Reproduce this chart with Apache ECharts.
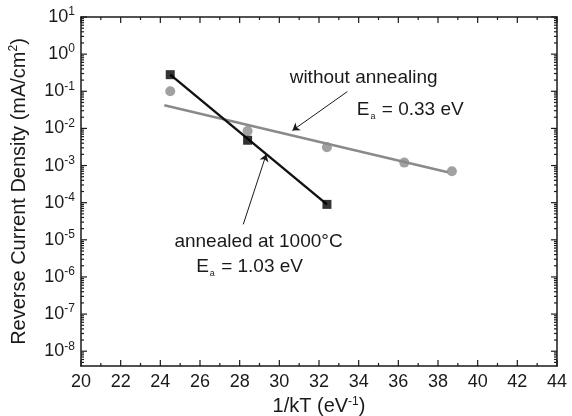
<!DOCTYPE html>
<html>
<head>
<meta charset="utf-8">
<script src="https://cdn.jsdelivr.net/npm/echarts@6/dist/echarts.min.js"></script>
<style>
  html, body { margin: 0; padding: 0; background: #fff; }
  #chart { width: 572px; height: 416px; }
</style>
</head>
<body>
<div id="chart"></div>
<script>
// measured points
const annealedX = [24.5, 28.4, 32.4]
const annealedY = [0.28, 0.0048, 0.00009]
const plainX = [24.5, 28.4, 32.4, 36.3, 38.7]
const plainY = [0.1, 0.0085, 0.0031, 0.0012, 0.0007]

// Arrhenius fit lines (end points)
const annealedFitX = [24.5, 32.4]
const annealedFitY = [0.28, 0.00009]
const plainFitX = [24.2, 38.5]
const plainFitY = [0.042, 0.00066]

// axes
const xTicks = { min: 20, max: 44, interval: 2 }
const yRange = { min: 4e-9, max: 10 }
const xMajorTicks = [20, 22, 24, 26, 28, 30, 32, 34, 36, 38, 40, 42, 44]
const xMinorTicks = [21, 23, 25, 27, 29, 31, 33, 35, 37, 39, 41, 43]
const yDecades = [1e1, 1e0, 1e-1, 1e-2, 1e-3, 1e-4, 1e-5, 1e-6, 1e-7, 1e-8, 1e-9]
const yMinorMult = [2, 3, 4, 5, 6, 7, 8, 9]

const font = 'Liberation Sans, Arial, sans-serif'
const ink = '#1a1a1a'

const zip = (xs, ys) => xs.map((x, i) => [x, ys[i]])

// tick marks as [x, y, kind]: 0 x major, 1 x minor, 2 y major, 3 y minor
const tickData = []
xMajorTicks.forEach(v => tickData.push([v, yRange.min, 0]))
xMinorTicks.forEach(v => tickData.push([v, yRange.min, 1]))
yDecades.forEach(d => {
  if (d >= yRange.min && d <= yRange.max) tickData.push([xTicks.min, d, 2])
  yMinorMult.forEach(m => {
    const v = d * m
    if (v > yRange.min && v < yRange.max) tickData.push([xTicks.min, v, 3])
  })
})

const chart = echarts.init(document.getElementById('chart'))

function powLabel(v) {
  const e = Math.log10(v)
  if (Math.abs(e - Math.round(e)) > 1e-6) return ''
  return '{b|10}{s|' + Math.round(e) + '}'
}

function renderTick(params, api) {
  const kind = api.value(2)
  const len = kind === 0 || kind === 2 ? 6 : 3
  const style = { stroke: ink, lineWidth: 1.2 }
  if (kind < 2) {
    const v = api.value(0)
    const b = api.coord([v, yRange.min])
    const t = api.coord([v, yRange.max])
    return {
      type: 'group',
      children: [
        { type: 'line', shape: { x1: b[0], y1: b[1], x2: b[0], y2: b[1] - len }, style },
        { type: 'line', shape: { x1: t[0], y1: t[1], x2: t[0], y2: t[1] + len }, style },
      ],
    }
  }
  const v = api.value(1)
  const l = api.coord([xTicks.min, v])
  const r = api.coord([xTicks.max, v])
  return {
    type: 'group',
    children: [
      { type: 'line', shape: { x1: l[0], y1: l[1], x2: l[0] + len, y2: l[1] }, style },
      { type: 'line', shape: { x1: r[0], y1: r[1], x2: r[0] - len, y2: r[1] }, style },
    ],
  }
}

const axisBase = {
  axisLine: { show: true, lineStyle: { color: ink, width: 1.5 } },
  splitLine: { show: false },
  axisTick: { show: false },
  minorTick: { show: false },
}
const supStyle = { fontSize: 12, verticalAlign: 'top', lineHeight: 22, fontFamily: font, color: ink }

const option = {
  animation: false,
  textStyle: { fontFamily: font },
  grid: { left: 81, right: 15, top: 17, bottom: 50, outerBoundsMode: 'none' },
  xAxis: [
    {
      ...axisBase,
      type: 'value',
      min: xTicks.min,
      max: xTicks.max,
      interval: xTicks.interval,
      name: '1/kT (eV{s|-1})',
      nameLocation: 'middle',
      nameGap: 26,
      nameTextStyle: { color: ink, fontSize: 20, fontFamily: font, rich: { s: supStyle } },
      axisLabel: { color: ink, fontSize: 18, margin: 7, fontFamily: font },
    },
    {
      ...axisBase,
      type: 'value',
      position: 'top',
      min: xTicks.min,
      max: xTicks.max,
      interval: xTicks.interval,
      axisLabel: { show: false },
    },
  ],
  yAxis: [
    {
      ...axisBase,
      type: 'log',
      logBase: 10,
      min: yRange.min,
      max: yRange.max,
      name: 'Reverse Current Density (mA/cm{s|2})',
      nameLocation: 'middle',
      nameGap: 51,
      nameTextStyle: { color: ink, fontSize: 20, fontFamily: font, rich: { s: supStyle } },
      axisLabel: {
        color: ink,
        margin: 6,
        formatter: powLabel,
        rich: {
          b: { fontSize: 18, fontFamily: font, color: ink, lineHeight: 22 },
          s: { fontSize: 12, fontFamily: font, color: ink, verticalAlign: 'top', lineHeight: 22 },
        },
      },
    },
    {
      ...axisBase,
      type: 'log',
      logBase: 10,
      position: 'right',
      min: yRange.min,
      max: yRange.max,
      axisLabel: { show: false },
    },
  ],
  series: [
    {
      name: 'ticks',
      type: 'custom',
      silent: true,
      clip: false,
      renderItem: renderTick,
      encode: { x: 0, y: 1 },
      data: tickData,
      z: 10,
    },
    {
      name: 'without annealing fit',
      type: 'line',
      data: zip(plainFitX, plainFitY),
      symbol: 'none',
      lineStyle: { color: '#8a8a8a', width: 2.4 },
      z: 2,
      markLine: {
        silent: true,
        symbol: ['none', 'arrow'],
        symbolSize: 7,
        label: { show: false },
        lineStyle: { color: ink, width: 1, type: 'solid' },
        data: [
          [{ coord: [33.43, 0.098] }, { coord: [30.66, 0.0088] }],
          [{ coord: [28.18, 2.6e-5] }, { coord: [29.34, 0.002] }],
        ],
      },
      markPoint: {
        silent: true,
        symbol: 'circle',
        symbolSize: 0,
        label: {
          show: true,
          position: 'inside',
          color: ink,
          fontSize: 19,
          fontFamily: font,
          rich: {
            n: { fontSize: 19, fontFamily: font, color: ink, lineHeight: 22 },
            sub: { fontSize: 9, fontFamily: font, color: ink, verticalAlign: 'bottom', lineHeight: 22, padding: [8, 1, 0, 1] },
          },
        },
        data: [
          { coord: [34.25, 0.23], value: 'without annealing', label: { formatter: '{n|without annealing}' } },
          { coord: [36.6, 0.031], value: 'Ea1', label: { formatter: '{n|E}{sub|a}{n| = 0.33 eV}' } },
          { coord: [28.95, 8.7e-6], value: 'annealed', label: { formatter: '{n|annealed at 1000°C}' } },
          { coord: [28.5, 1.9e-6], value: 'Ea2', label: { formatter: '{n|E}{sub|a}{n| = 1.03 eV}' } },
        ],
      },
    },
    {
      name: 'without annealing',
      type: 'scatter',
      data: zip(plainX, plainY),
      symbol: 'circle',
      symbolSize: 10,
      itemStyle: { color: '#8a8a8a' },
      z: 3,
    },
    {
      name: 'annealed fit',
      type: 'line',
      data: zip(annealedFitX, annealedFitY),
      symbol: 'none',
      lineStyle: { color: '#111', width: 2.4 },
      z: 4,
    },
    {
      name: 'annealed at 1000°C',
      type: 'scatter',
      data: zip(annealedX, annealedY),
      symbol: 'rect',
      symbolSize: 9,
      itemStyle: { color: '#000' },
      z: 5,
    },
  ],
}

chart.setOption(option)
</script>
</body>
</html>
